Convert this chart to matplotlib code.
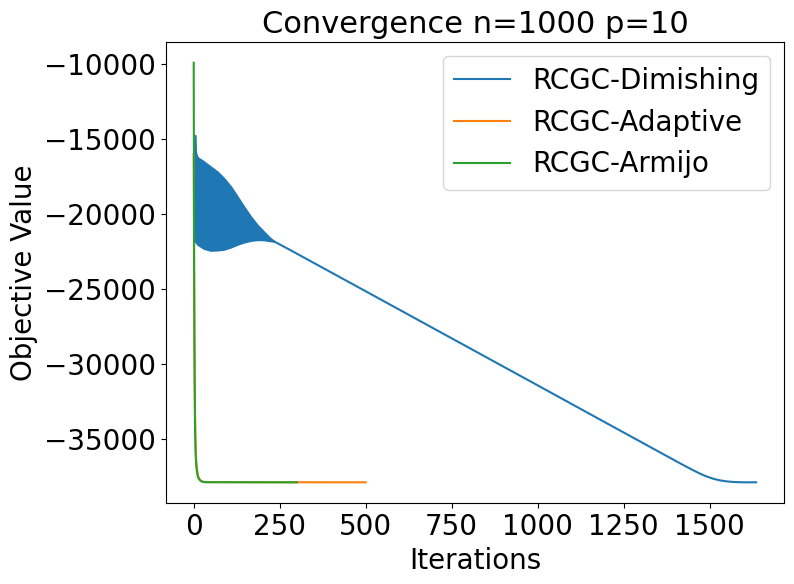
import matplotlib
matplotlib.use("Agg")
import matplotlib.pyplot as plt

# Blue (Dimishing): oscillation band envelopes
dim_band_iter = [0, 4, 5, 6, 11, 30, 49, 69, 88, 108, 127, 146, 166, 185, 204, 220, 233]
dim_upper = [-14750, -14750, -15800, -15950, -16220, -16510, -16840, -17180, -17620,
             -18180, -18840, -19510, -20180, -20730, -21180, -21550, -21800]
dim_lower = [-21700, -21800, -21820, -21840, -22000, -22280, -22400, -22380, -22330,
             -22180, -22000, -21850, -21740, -21690, -21700, -21760, -21800]
# Blue after oscillation dies out
dim_line_iter = [233, 282, 500, 1000, 1183, 1420, 1450, 1470, 1490, 1510, 1530, 1550, 1570, 1600, 1635]
dim_line_val = [-21800, -22400, -25130, -31400, -33700, -36670, -37030, -37260, -37460,
                -37620, -37730, -37800, -37840, -37860, -37860]

# Orange (Adaptive)
ada_iter = [0, 1, 2, 3, 4, 5, 6, 7, 8, 10, 12, 15, 20, 25, 30, 35, 500]
ada_val = [-16000, -23000, -28000, -31300, -33500, -34900, -35800, -36300, -36600,
           -37050, -37350, -37580, -37740, -37810, -37840, -37850, -37860]

# Green (Armijo)
arm_iter = [0, 1, 2, 3, 4, 5, 6, 7, 8, 10, 12, 15, 20, 25, 35, 300]
arm_val = [-9900, -22000, -28500, -32300, -34400, -35500, -36200, -36600, -36900,
           -37250, -37480, -37640, -37760, -37820, -37850, -37860]

labels = ["RCGC-Dimishing", "RCGC-Adaptive", "RCGC-Armijo"]
colors = ["#1f77b4", "#ff7f0e", "#2ca02c"]

fig = plt.figure(figsize=(7.94, 5.84), dpi=100)
ax = fig.add_axes([165.6 / 794, 1 - 503.3 / 584, (784.2 - 165.6) / 794, (503.3 - 41.7) / 584])

ax.fill_between(dim_band_iter, dim_lower, dim_upper, color=colors[0], linewidth=1.5,
                edgecolor=colors[0])
ax.plot(dim_line_iter, dim_line_val, color=colors[0], lw=1.5, label=labels[0])
ax.plot(ada_iter, ada_val, color=colors[1], lw=1.5, label=labels[1])
ax.plot(arm_iter, arm_val, color=colors[2], lw=1.5, label=labels[2])

ax.set_title("Convergence n=1000 p=10", fontsize=22)
ax.set_xlabel("Iterations", fontsize=20)
ax.set_ylabel("Objective Value", fontsize=20)
ax.tick_params(labelsize=20)
ax.set_xticks([0, 250, 500, 750, 1000, 1250, 1500])
ax.set_yticks([-10000, -15000, -20000, -25000, -30000, -35000])
ax.legend(fontsize=20, loc="upper right")

fig.savefig("out.png", dpi=100)
